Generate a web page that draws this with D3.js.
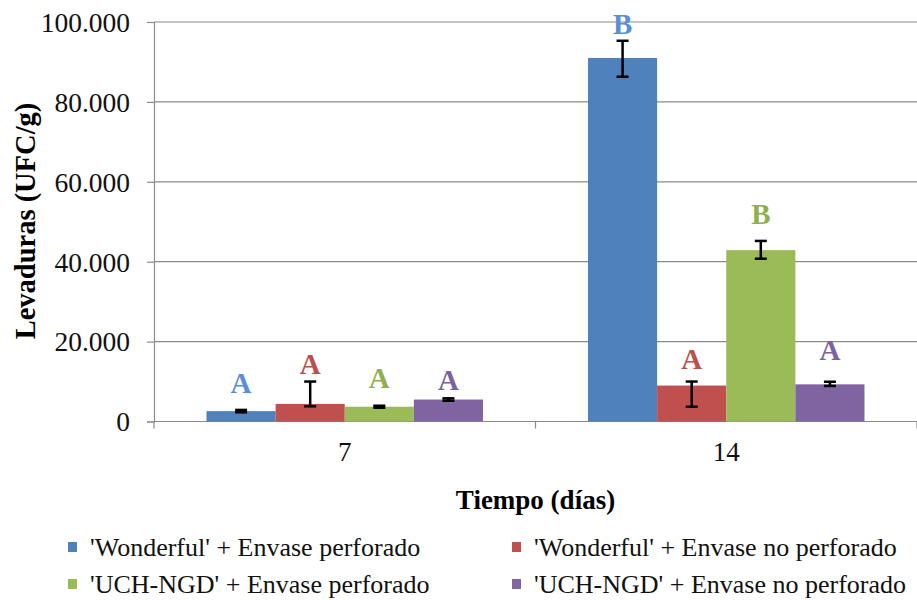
<!DOCTYPE html>
<html>
<head>
<meta charset="utf-8">
<script src="https://cdn.jsdelivr.net/npm/d3@7"></script>
</head>
<body style="margin:0; background:#fff">
<svg id="chart" width="917" height="600" style="display:block"></svg>
<script>
// Yeast counts (UFC/g) by storage day and treatment
const days = ["7", "14"];
const series = [
  "'Wonderful' + Envase perforado",
  "'Wonderful' + Envase no perforado",
  "'UCH-NGD' + Envase perforado",
  "'UCH-NGD' + Envase no perforado"
];
const values = {
  "7":  [2600, 4400, 3700, 5500],
  "14": [91000, 9000, 42900, 9300]
};
const errPlus = {
  "7":  [300, 5600, 250, 300],
  "14": [4300, 1000, 2300, 650]
};
const errMinus = {
  "7":  [300, 600, 250, 300],
  "14": [4700, 5300, 2150, 400]
};
const letters = {
  "7":  ["A", "A", "A", "A"],
  "14": ["B", "A", "B", "A"]
};
const yTicks = [0, 20000, 40000, 60000, 80000, 100000];

// styling
const SERIF = "'Liberation Serif', 'Times New Roman', serif";
const barColors = ["#4f81bd", "#c0504d", "#9bbb59", "#8064a2"];
const letterColors = ["#5a8fd6", "#b9504c", "#8eb04e", "#7a62a0"];
// vertical gap (px) between the top of each error bar and its letter
const letterLift = {
  "7":  [17, 8, 18, 8],
  "14": [7, 13, 17, 22]
};

const svg = d3.select("#chart");
const plotLeft = 154, plotRight = 917, plotTop = 22, plotBottom = 421.5;

const y = d3.scaleLinear().domain([0, 100000]).range([plotBottom, plotTop]);
const x0 = d3.scaleBand().domain(days).range([plotLeft, plotRight]).padding(0);
const x1 = d3.scaleBand().domain(d3.range(series.length))
  .range([0, x0.bandwidth()]).paddingInner(0).paddingOuter(0.76);

// gridlines
svg.append("g").selectAll("line")
  .data(yTicks.filter(t => t > 0))
  .join("line")
  .attr("x1", plotLeft).attr("x2", plotRight)
  .attr("y1", d => y(d)).attr("y2", d => y(d))
  .attr("stroke", "#8a8a8a").attr("stroke-width", 1.2);

// y axis
const yAxis = d3.axisLeft(y).tickValues(yTicks).tickSize(7).tickPadding(17)
  .tickFormat(d => d === 0 ? "0" : (d / 1000).toFixed(0) + ".000");
const gy = svg.append("g").attr("transform", `translate(${plotLeft},0)`).call(yAxis);
gy.select(".domain").attr("stroke", "#8a8a8a").attr("stroke-width", 1.2);
gy.selectAll(".tick line").attr("stroke", "#8a8a8a").attr("stroke-width", 1.2);
gy.selectAll(".tick text")
  .style("font-family", SERIF).style("font-size", "27.5px").attr("fill", "#111")
  .attr("dy", "0.34em");

// x axis with ticks between categories
const gx = svg.append("g").attr("transform", `translate(0,${plotBottom})`);
gx.append("line").attr("x1", plotLeft).attr("x2", plotRight).attr("y1", 0).attr("y2", 0)
  .attr("stroke", "#8a8a8a").attr("stroke-width", 1.2);
gx.selectAll("line.sep")
  .data(days.map(d => x0(d)).concat([plotRight]))
  .join("line").attr("class", "sep")
  .attr("x1", d => d).attr("x2", d => d).attr("y1", 0).attr("y2", 7)
  .attr("stroke", "#8a8a8a").attr("stroke-width", 1.2);
gx.selectAll("text")
  .data(days)
  .join("text")
  .attr("x", d => x0(d) + x0.bandwidth() / 2)
  .attr("y", 39)
  .attr("text-anchor", "middle")
  .style("font-family", SERIF).style("font-size", "27px").attr("fill", "#111")
  .text(d => d);

// bars, error bars and letters
const rows = days.flatMap(day => series.map((s, i) => ({
  day, i,
  v: values[day][i],
  hi: values[day][i] + errPlus[day][i],
  lo: values[day][i] - errMinus[day][i],
  letter: letters[day][i],
  lift: letterLift[day][i]
})));

const g = svg.append("g");
g.selectAll("rect")
  .data(rows)
  .join("rect")
  .attr("x", d => x0(d.day) + x1(d.i))
  .attr("width", x1.bandwidth())
  .attr("y", d => y(d.v))
  .attr("height", d => y(0) - y(d.v))
  .attr("fill", d => barColors[d.i]);

const eb = g.selectAll("g.err").data(rows).join("g").attr("class", "err")
  .attr("transform", d => `translate(${x0(d.day) + x1(d.i) + x1.bandwidth() / 2},0)`);
eb.append("line").attr("x1", 0).attr("x2", 0)
  .attr("y1", d => y(d.hi)).attr("y2", d => y(d.lo))
  .attr("stroke", "#000").attr("stroke-width", 2.5);
eb.append("line").attr("x1", -6).attr("x2", 6)
  .attr("y1", d => y(d.hi)).attr("y2", d => y(d.hi))
  .attr("stroke", "#000").attr("stroke-width", 2.5);
eb.append("line").attr("x1", -6).attr("x2", 6)
  .attr("y1", d => y(d.lo)).attr("y2", d => y(d.lo))
  .attr("stroke", "#000").attr("stroke-width", 2.5);

g.selectAll("text.letter")
  .data(rows)
  .join("text").attr("class", "letter")
  .attr("x", d => x0(d.day) + x1(d.i) + x1.bandwidth() / 2)
  .attr("y", d => y(d.hi) - d.lift)
  .attr("text-anchor", "middle")
  .style("font-family", SERIF).style("font-size", "29px").style("font-weight", "bold")
  .attr("fill", d => letterColors[d.i])
  .text(d => d.letter);

// axis titles
svg.append("text")
  .attr("x", 535.5).attr("y", 509)
  .attr("text-anchor", "middle")
  .style("font-family", SERIF).style("font-size", "27px").style("font-weight", "bold")
  .attr("fill", "#000")
  .text("Tiempo (días)");
svg.append("text")
  .attr("transform", "translate(35,221) rotate(-90)")
  .attr("text-anchor", "middle")
  .style("font-family", SERIF).style("font-size", "28.5px").style("font-weight", "bold")
  .attr("fill", "#000")
  .text("Levaduras (UFC/g)");

// legend, two columns
const legendPos = [[68, 556], [512, 556], [68, 593], [512, 593]];
const lg = svg.append("g").selectAll("g").data(series).join("g")
  .attr("transform", (d, i) => `translate(${legendPos[i][0]},${legendPos[i][1]})`);
lg.append("rect").attr("x", 0).attr("y", -14).attr("width", 9).attr("height", 10)
  .attr("fill", (d, i) => barColors[i]);
lg.append("text").attr("x", 22).attr("y", 0)
  .style("font-family", SERIF).style("font-size", "26px").attr("fill", "#111")
  .text(d => d);
</script>
</body>
</html>
